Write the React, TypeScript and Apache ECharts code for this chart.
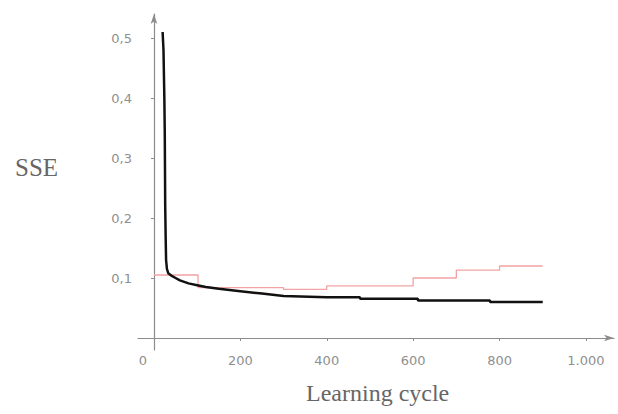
import React, { useEffect, useRef } from "react";
import * as echarts from "echarts";

const xTicks = [0, 200, 400, 600, 800, 1000];
const yTicks = [0.1, 0.2, 0.3, 0.4, 0.5];

// SSE of training (black) vs. validation (red)
const trainCycles = [20, 22, 24, 25, 26, 27, 28, 30, 33, 40, 50, 60, 80, 100, 120, 150, 200, 250, 300, 400, 477, 477, 611, 611, 778, 778, 900];
const trainSSE = [0.51, 0.48, 0.4, 0.34, 0.22, 0.17, 0.13, 0.115, 0.108, 0.104, 0.1, 0.096, 0.091, 0.088, 0.085, 0.082, 0.078, 0.074, 0.07, 0.068, 0.068, 0.0655, 0.0655, 0.0625, 0.0625, 0.06, 0.06];

const validCycles = [0, 102, 300, 400, 600, 700, 800, 900];
const validSSE = [0.105, 0.084, 0.081, 0.087, 0.1, 0.113, 0.12, 0.12];

const axisColor = "#8c8c8c";
const labelColor = "#8f8f8f";

export default function App() {
  const ref = useRef<HTMLDivElement>(null);
  useEffect(() => {
    document.body.style.margin = "0";
    const chart = echarts.init(ref.current!, null, { renderer: "svg" });
    chart.setOption({
      animation: false,
      backgroundColor: "#ffffff",
      grid: { left: 138, right: 4, top: 14, bottom: 64 },
      xAxis: {
        type: "value",
        min: -37,
        max: 1065,
        splitLine: { show: false },
        axisLine: {
          onZero: true,
          lineStyle: { color: axisColor, width: 1.2 },
          symbol: ["none", "arrow"],
          symbolSize: [5, 10],
        },
        axisTick: { show: true, length: 3, customValues: xTicks, lineStyle: { color: axisColor } },
        axisLabel: {
          customValues: xTicks,
          color: labelColor,
          fontFamily: "DejaVu Sans",
          fontSize: 13,
          margin: 4,
          formatter: (v: number) =>
            v === 0 ? "{z|0}" : v >= 1000 ? "1." + String(v).slice(1) : String(v),
          rich: { z: { padding: [0, 22, 0, 0], color: labelColor, fontFamily: "DejaVu Sans", fontSize: 13 } },
        },
      },
      yAxis: {
        type: "value",
        min: -0.02,
        max: 0.54,
        splitLine: { show: false },
        axisLine: {
          onZero: true,
          lineStyle: { color: axisColor, width: 1.2 },
          symbol: ["none", "arrow"],
          symbolSize: [5, 10],
        },
        axisTick: { show: true, length: 3, customValues: yTicks, lineStyle: { color: axisColor } },
        axisLabel: {
          customValues: yTicks,
          color: labelColor,
          fontFamily: "DejaVu Sans",
          fontSize: 13,
          margin: 6,
          formatter: (v: number) => v.toFixed(1).replace(".", ","),
        },
      },
      series: [
        {
          type: "line",
          step: "end",
          data: validCycles.map((c, i) => [c, validSSE[i]]),
          showSymbol: false,
          lineStyle: { color: "#f2a3a3", width: 1.3 },
          z: 2,
        },
        {
          type: "line",
          data: trainCycles.map((c, i) => [c, trainSSE[i]]),
          showSymbol: false,
          lineStyle: { color: "#111111", width: 2.5 },
          z: 3,
        },
      ],
      graphic: [
        {
          type: "text",
          left: 15,
          top: 155,
          style: { text: "SSE", fontFamily: "Liberation Serif", fontSize: 25, fill: "#666666" },
        },
        {
          type: "text",
          left: 306,
          top: 381,
          style: { text: "Learning cycle", fontFamily: "Liberation Serif", fontSize: 24, fill: "#666666" },
        },
      ],
    });
    return () => chart.dispose();
  }, []);
  return <div ref={ref} style={{ width: 618, height: 414 }} />;
}
